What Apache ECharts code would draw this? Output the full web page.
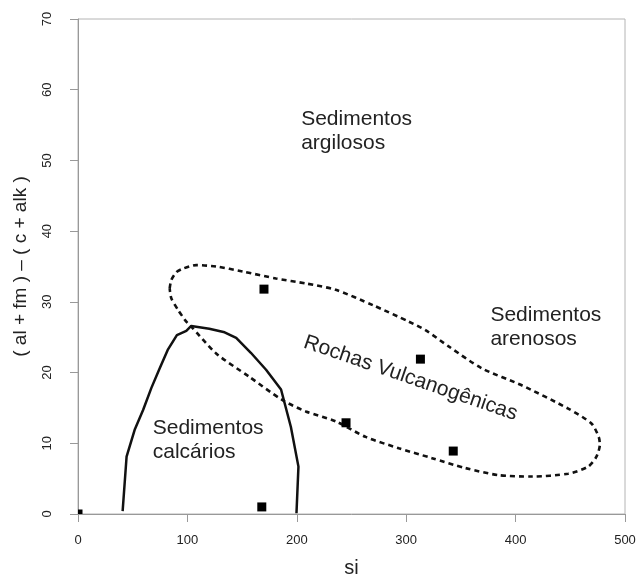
<!DOCTYPE html>
<html>
<head>
<meta charset="utf-8">
<script src="https://cdn.jsdelivr.net/npm/echarts@6/dist/echarts.min.js"></script>
<style>
html,body{margin:0;padding:0;background:#fff;}
#chart{width:639px;height:579px;}
</style>
</head>
<body>
<div id="chart"></div>
<script>
// Sample points (si, (al+fm)-(c+alk))
const samplePoints = [
  [0, 0],
  [170, 31.8],
  [168, 1.0],
  [245, 12.9],
  [313, 21.9],
  [343, 8.9]
];

// Field boundary: Sedimentos calcários (solid)
const calcBoundary = [
  [40.8, 0.4], [44.4, 8.1], [52, 12.0], [59.5, 14.7], [67, 17.8], [74.7, 20.6],
  [82, 23.2], [90.4, 25.3], [99, 25.9], [103.5, 26.6], [120, 26.2], [134, 25.7],
  [144.6, 24.9], [158, 22.8], [171.9, 20.4], [185.6, 17.6], [194.6, 12.3],
  [201.5, 6.7], [199.7, 0.1]
];

// Field boundary: Rochas Vulcanogênicas (dashed, closed)
const volcBoundary = [
  [83.8, 31.9], [85.3, 33.1], [90, 34.2], [95.9, 34.7], [108.1, 35.2], [126.3, 35.0],
  [150.5, 34.3], [181, 33.3], [208.3, 32.6], [235.6, 31.7], [270, 29.5],
  [302.4, 27.2], [317.6, 26.0], [338.8, 23.7], [369.1, 20.6], [405.6, 18.2],
  [448.1, 14.9], [469.3, 12.8], [476, 10.9], [477, 9.8], [473.9, 8.1],
  [466.3, 6.7], [448.1, 5.7], [414.7, 5.3], [384.3, 5.5], [354, 6.5],
  [323.6, 7.9], [293.3, 9.3], [262.9, 10.9], [235.6, 13.1], [208.3, 14.5],
  [187, 16.1], [156.6, 19.4], [126.3, 22.7], [103.6, 26.5], [99, 27.2],
  [91.3, 28.9], [85.3, 30.5], [83.8, 31.9]
];

// Field names, anchored in data coordinates
const fieldNames = ['Sedimentos\nargilosos', 'Sedimentos\narenosos', 'Sedimentos\ncalcários', 'Rochas Vulcanogênicas'];
const fieldAnchors = [[204, 54.2], [377, 26.4], [68.3, 10.5], [304, 19.2]];
const fieldAngles = [0, 0, 0, -19];
const fieldAlign = ['left', 'left', 'left', 'center'];

const xTicks = { min: 0, max: 500, interval: 100 };
const yTicks = { min: 0, max: 70, interval: 10 };

const FONT = '"Liberation Sans", Arial, Helvetica, sans-serif';
const chart = echarts.init(document.getElementById('chart'), null, { renderer: 'canvas' });

chart.setOption({
  animation: false,
  backgroundColor: '#fff',
  grid: {
    left: 78, right: 14, top: 19, bottom: 65, containLabel: false, outerBoundsMode: 'none',
    show: true, borderColor: '#b4b4b4', borderWidth: 1, backgroundColor: 'transparent'
  },
  xAxis: {
    type: 'value', min: xTicks.min, max: xTicks.max, interval: xTicks.interval,
    name: 'si', nameLocation: 'middle', nameGap: 44,
    nameTextStyle: { fontFamily: FONT, fontSize: 20, color: '#222' },
    axisLine: { show: true, lineStyle: { color: '#999', width: 1 } },
    axisTick: { show: true, inside: false, length: 8, lineStyle: { color: '#999' } },
    axisLabel: { margin: 20, fontFamily: FONT, fontSize: 13, color: '#222' },
    splitLine: { show: false }
  },
  yAxis: {
    type: 'value', min: yTicks.min, max: yTicks.max, interval: yTicks.interval,
    name: '( al + fm ) – ( c + alk )', nameLocation: 'middle', nameGap: 48,
    nameTextStyle: { fontFamily: FONT, fontSize: 19, color: '#222' },
    axisLine: { show: true, lineStyle: { color: '#999', width: 1 } },
    axisTick: { show: true, inside: false, length: 8, lineStyle: { color: '#999' } },
    axisLabel: { rotate: 90, margin: 24, fontFamily: FONT, fontSize: 13, color: '#222' },
    splitLine: { show: false }
  },
  series: [
    {
      type: 'line', data: calcBoundary, showSymbol: false, symbol: 'none', smooth: false,
      lineStyle: { color: '#111', width: 2.5 }, clip: false, z: 3
    },
    {
      type: 'line', data: volcBoundary, showSymbol: false, symbol: 'none', smooth: 0.25,
      lineStyle: { color: '#111', width: 2.6, type: [5, 4] }, clip: false, z: 3
    },
    {
      type: 'custom', data: samplePoints, clip: true, z: 5,
      renderItem: function (params, api) {
        const p = api.coord([api.value(0), api.value(1)]);
        const s = 9;
        return { type: 'rect', shape: { x: p[0] - s / 2, y: p[1] - s / 2, width: s, height: s }, style: { fill: '#000' } };
      }
    },
    {
      type: 'custom', data: fieldAnchors, clip: false, z: 6,
      renderItem: function (params, api) {
        const i = params.dataIndex;
        const p = api.coord([api.value(0), api.value(1)]);
        return {
          type: 'text', x: p[0], y: p[1], rotation: fieldAngles[i] * Math.PI / 180,
          style: {
            text: fieldNames[i], fontFamily: FONT, fontSize: 21, lineHeight: 24,
            fill: '#222', align: fieldAlign[i], verticalAlign: 'middle'
          }
        };
      }
    }
  ]
});
</script>
</body>
</html>
